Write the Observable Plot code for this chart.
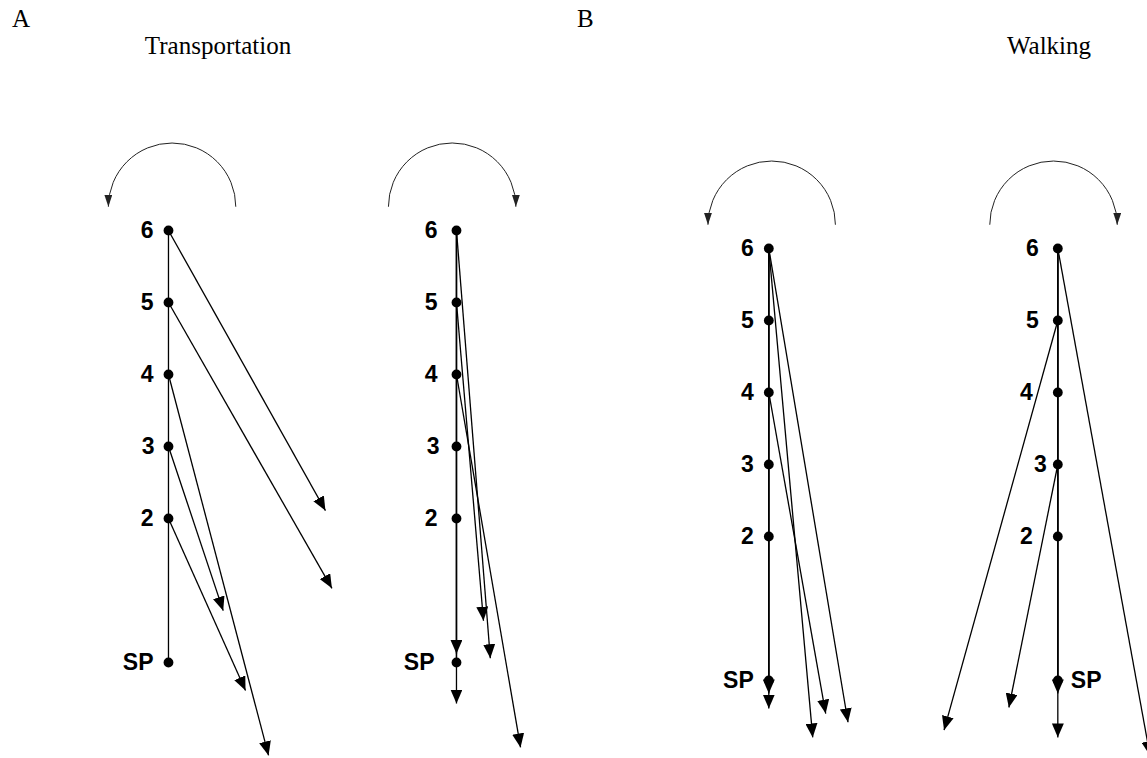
<!DOCTYPE html>
<html>
<head>
<meta charset="utf-8">
<script src="https://cdn.jsdelivr.net/npm/d3@7"></script>
<script src="https://cdn.jsdelivr.net/npm/@observablehq/plot@0.6"></script>
<style>
  body { margin: 0; background: #fff; }
  #fig { position: relative; width: 1147px; height: 758px; overflow: hidden; background: #fff; }
  #fig svg { position: absolute; left: 0; top: 0; }
  .t { position: absolute; font-family: "Liberation Serif", "Times New Roman", serif; font-size: 25px; line-height: 25px; color: #000; white-space: nowrap; z-index: 2; }
  .c { transform: translateX(-50%); }
</style>
</head>
<body>
<div id="fig">
  <div class="t" style="left:12px;top:6px">A</div>
  <div class="t c" style="left:218px;top:33px">Transportation</div>
  <div class="t" style="left:577px;top:6px">B</div>
  <div class="t c" style="left:1049px;top:33px">Walking</div>
</div>
<script>
// ---------------- data ----------------
const panelIds   = ["A-left", "A-right", "B-left", "B-right"];
const panelGroup = ["Transportation", "Transportation", "Walking", "Walking"];
const rotation   = ["ccw", "cw", "ccw", "cw"];          // direction of the curved arrow
const siteNames  = ["6", "5", "4", "3", "2", "SP"];
const siteValues = [6, 5, 4, 3, 2, 0];                  // distance of release site from SP (units)

// homing vectors: panel index, release site, end point (lateral, distance) in units
const arrowPanel = [0, 0, 0, 0, 0,   1, 1, 1, 1, 1,   2, 2, 2, 2, 2,   3, 3, 3, 3, 3];
const arrowFrom  = ["6", "5", "4", "3", "2",  "6", "5", "4", "6", "6",  "6", "6", "4", "6", "6",  "5", "3", "6", "6", "6"];
const arrowEndX  = [2.18, 2.27, 1.39, 0.76, 1.07,  0.47, 0.375, 0.89, 0, 0,  1.10, 0.61, 0.79, 0, 0,  -1.58, -0.68, 1.28, 0, 0];
const arrowEndY  = [2.11, 1.03, -1.29, 0.72, -0.39,  0.06, 0.58, -1.18, 0.12, -0.57,  -0.58, -0.79, -0.46, -0.18, -0.39,  -0.69, -0.375, -1.04, -0.18, -0.79];

// ---------------- layout (not data) ----------------
const unitPx = 72;
const layout = {
  axisX:   [2.333, 6.333, 10.671, 14.685],
  baseY:   [0.25, 0.25, 0, 0],
  arcY:    6.33,
  arcR:    0.885,
  arcShift:[0.05, -0.06, 0.04, -0.06],
  labelDx: [
    {"6": -15, "5": -15, "4": -15, "3": -14, "2": -15, "SP": -15},
    {"6": -19, "5": -19, "4": -19, "3": -17, "2": -19, "SP": -22},
    {"6": -15, "5": -15, "4": -15, "3": -15, "2": -15, "SP": -15},
    {"6": -19, "5": -19, "4": -25, "3": -11, "2": -25, "SP": 13}
  ]
};

// ---------------- derived tables ----------------
const siteValue = Object.fromEntries(siteNames.map((s, i) => [s, siteValues[i]]));

const sites = panelIds.flatMap((p, pi) => siteNames.map((s) => ({
  panel: p, pi, site: s,
  x: layout.axisX[pi],
  y: siteValue[s] + layout.baseY[pi]
})));

const axes = panelIds.map((p, pi) => ({
  panel: p,
  x: layout.axisX[pi],
  y1: Math.max(...siteValues) + layout.baseY[pi],
  y2: Math.min(...siteValues) + layout.baseY[pi]
}));

const arrows = arrowPanel.map((pi, i) => ({
  panel: panelIds[pi],
  x1: layout.axisX[pi],
  y1: siteValue[arrowFrom[i]] + layout.baseY[pi],
  x2: layout.axisX[pi] + arrowEndX[i],
  y2: arrowEndY[i] + layout.baseY[pi]
}));

const arcs = panelIds.map((p, pi) => {
  const cx = layout.axisX[pi] + layout.arcShift[pi];
  const y = layout.arcY + layout.baseY[pi];
  const ccw = rotation[pi] === "ccw";
  return {
    panel: p,
    x1: ccw ? cx + layout.arcR : cx - layout.arcR,
    x2: ccw ? cx - layout.arcR : cx + layout.arcR,
    y1: y, y2: y
  };
});

// semicircular curve over the top between the two link end points
function semiArc(context) {
  let pts = [];
  return {
    areaStart() {}, areaEnd() {},
    lineStart() { pts = []; },
    point(x, y) { pts.push([+x, +y]); },
    lineEnd() {
      const [[x0, y0], [x1, y1]] = pts;
      const cx = (x0 + x1) / 2, cy = (y0 + y1) / 2;
      const r = Math.hypot(x1 - x0, y1 - y0) / 2;
      const a0 = Math.atan2(y0 - cy, x0 - cx);
      const ccw = x0 > x1;
      context.moveTo(x0, y0);
      context.arc(cx, cy, r, a0, ccw ? a0 - Math.PI : a0 + Math.PI, ccw);
    }
  };
}

// filled triangular arrow head marker
function head(len, half) {
  return (color, context) => {
    const doc = (context && context.document) || document;
    const ns = "http://www.w3.org/2000/svg";
    const m = doc.createElementNS(ns, "marker");
    m.setAttribute("viewBox", `${-len} ${-half} ${len} ${2 * half}`);
    m.setAttribute("markerWidth", len);
    m.setAttribute("markerHeight", 2 * half);
    m.setAttribute("markerUnits", "userSpaceOnUse");
    m.setAttribute("refX", 0);
    m.setAttribute("refY", 0);
    m.setAttribute("orient", "auto");
    const p = doc.createElementNS(ns, "path");
    p.setAttribute("d", `M0,0L${-len},${-half}L${-len},${half}Z`);
    p.setAttribute("fill", color);
    p.setAttribute("stroke", "none");
    m.appendChild(p);
    return m;
  };
}

function build(useCustom) {
  const bigHead = useCustom ? head(14, 6) : "arrow";
  const smallHead = useCustom ? head(12, 4) : "arrow";
  const labelMarks = sites.map((d) => {
    const dx = layout.labelDx[d.pi][d.site];
    return Plot.text([d], {
      x: "x", y: "y", text: "site",
      dx, textAnchor: dx > 0 ? "start" : "end",
      fontFamily: "Liberation Sans, Arial, sans-serif",
      fontWeight: "bold", fontSize: 23, fill: "black"
    });
  });
  return Plot.plot({
    width: 1147,
    height: 758,
    margin: 0,
    style: {background: "transparent", overflow: "visible"},
    x: {domain: [0, 1147 / unitPx], range: [0, 1147], axis: null},
    y: {domain: [0, 680 / unitPx], range: [680, 0], axis: null},
    marks: [
      Plot.link(axes, {x1: "x", x2: "x", y1: "y1", y2: "y2", stroke: "black", strokeWidth: 1.3}),
      Plot.link(arrows, {x1: "x1", y1: "y1", x2: "x2", y2: "y2", stroke: "black", strokeWidth: 1.3, markerEnd: bigHead}),
      Plot.link(arcs, {x1: "x1", y1: "y1", x2: "x2", y2: "y2", curve: semiArc, stroke: "#222", strokeWidth: 1, markerEnd: smallHead}),
      Plot.dot(sites, {x: "x", y: "y", r: 4.9, fill: "black", stroke: "none"}),
      ...labelMarks
    ]
  });
}

let chart;
try { chart = build(true); } catch (e) { console.warn(e); chart = build(false); }
document.getElementById("fig").appendChild(chart);
</script>
</body>
</html>
